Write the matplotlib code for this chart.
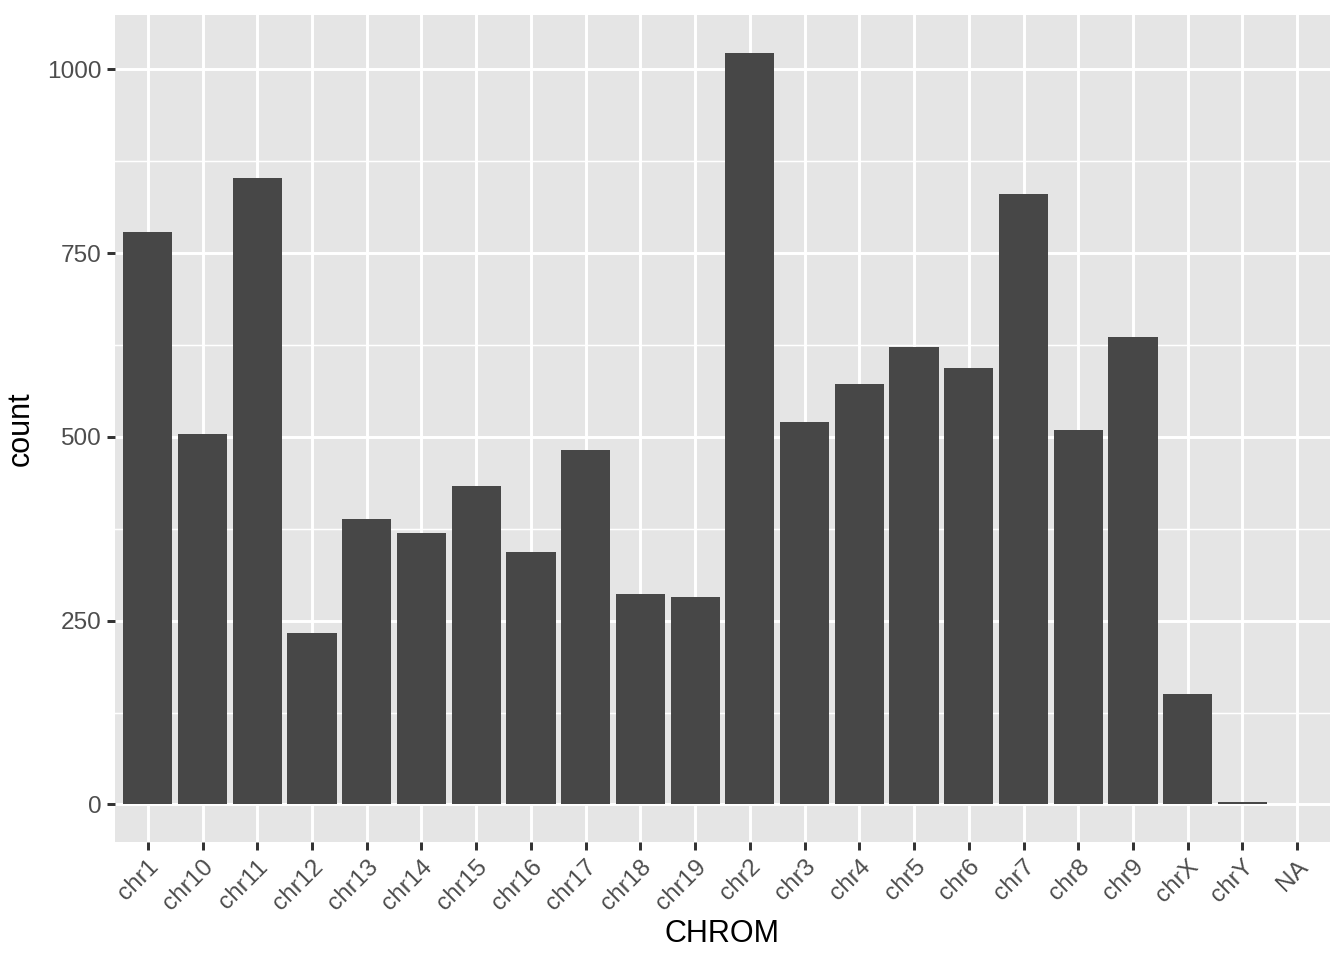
import matplotlib
matplotlib.use("Agg")
import matplotlib.pyplot as plt
import numpy as np

chroms = ["chr1", "chr10", "chr11", "chr12", "chr13", "chr14", "chr15", "chr16",
          "chr17", "chr18", "chr19", "chr2", "chr3", "chr4", "chr5", "chr6",
          "chr7", "chr8", "chr9", "chrX", "chrY", "NA"]
counts = [779, 504, 852, 233, 388, 369, 433, 344,
          482, 286, 282, 1023, 520, 572, 623, 594,
          831, 509, 636, 150, 3, 1]
y_ticks = [0, 250, 500, 750, 1000]

plt.rcParams["font.family"] = ["Liberation Sans", "DejaVu Sans"]

fig = plt.figure(figsize=(6.72, 4.8), dpi=200)
ax = fig.add_axes([115 / 1344, 118 / 960, 1215 / 1344, 827 / 960])

ax.set_facecolor("#E5E5E5")
x = np.arange(len(chroms))
ax.bar(x, counts, width=0.9, color="#474747", zorder=3)

ymax = max(counts)
ax.set_ylim(-0.05 * ymax, 1.05 * ymax)
ax.set_xlim(-0.6, len(chroms) - 0.4)

ax.set_yticks(y_ticks)
ax.set_yticks([125, 375, 625, 875], minor=True)
ax.set_xticks(x)
ax.set_xticklabels(chroms, rotation=45, ha="right", va="top", rotation_mode="anchor")

ax.grid(True, which="major", color="white", linewidth=1.07, zorder=1)
ax.grid(True, which="minor", axis="y", color="white", linewidth=0.53, zorder=1)
ax.set_axisbelow(True)

for s in ax.spines.values():
    s.set_visible(False)

ax.tick_params(axis="both", which="major", length=2.75, width=1.07, color="#333333",
               labelsize=8.8, labelcolor="#4D4D4D", pad=2.2)
ax.tick_params(axis="both", which="minor", length=0)

ax.set_xlabel("CHROM", fontsize=11, color="black", labelpad=1.5)
ax.set_ylabel("count", fontsize=11, color="black", labelpad=4)

fig.savefig("out.png", dpi=200, facecolor="white")
